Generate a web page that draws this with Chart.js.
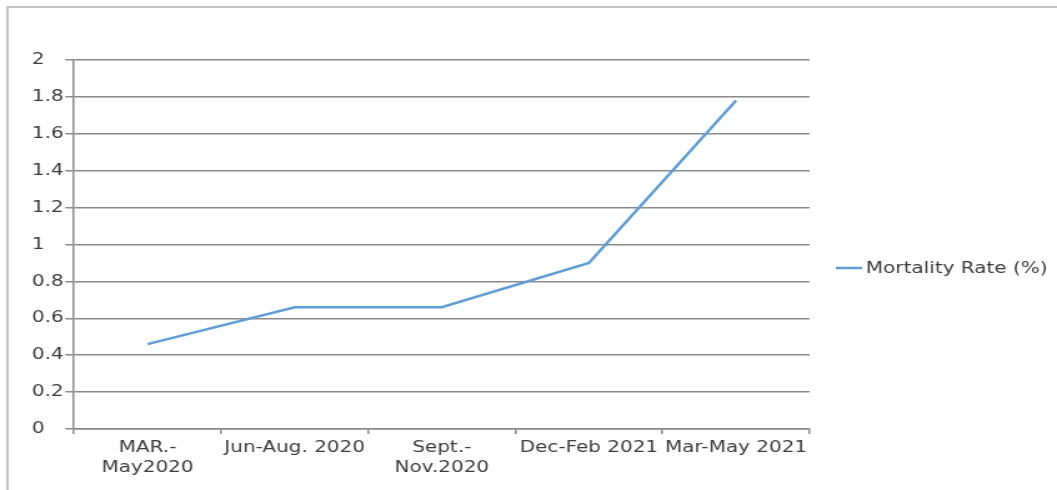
<!DOCTYPE html>
<html>
<head>
<meta charset="utf-8">
<script src="https://cdn.jsdelivr.net/npm/chart.js@4/dist/chart.umd.min.js"></script>
<style>
  html, body { margin: 0; padding: 0; background: #ffffff; overflow: hidden; }
  #wrap { width: 846px; height: 490px; transform: scaleX(1.2494); transform-origin: 0 0; }
  canvas { display: block; }
</style>
</head>
<body>
<div id="wrap"><canvas id="c" width="846" height="490"></canvas></div>
<script>
const categories = [['MAR.-', 'May2020'], 'Jun-Aug. 2020', ['Sept.-', 'Nov.2020'], 'Dec-Feb 2021', 'Mar-May 2021'];
const seriesLabel = 'Mortality Rate (%)';
const mortalityRate = [0.46, 0.66, 0.66, 0.90, 1.78];
const yMin = 0, yMax = 2, yStep = 0.2;

const FONT = { family: '"DejaVu Sans", Verdana, sans-serif', size: 16, lineHeight: 1.3 };
const TEXT = '#3c3c3c';
const LINE = '#5f9dd6';

const frame = {
  id: 'frame',
  beforeDraw(chart) {
    const ctx = chart.ctx;
    ctx.save();
    ctx.strokeStyle = '#c4c4c4';
    ctx.lineWidth = 2;
    ctx.beginPath();
    ctx.moveTo(6, 490);
    ctx.lineTo(6, 7);
    ctx.lineTo(846, 7);
    ctx.stroke();
    ctx.restore();
  }
};

const sideLegend = {
  id: 'sideLegend',
  afterDraw(chart) {
    const ctx = chart.ctx;
    const ds = chart.data.datasets[0];
    const y = 268;
    ctx.save();
    ctx.strokeStyle = ds.borderColor;
    ctx.lineWidth = 2.5;
    ctx.beginPath();
    ctx.moveTo(669, y);
    ctx.lineTo(690, y);
    ctx.stroke();
    ctx.fillStyle = TEXT;
    ctx.font = FONT.size + 'px ' + FONT.family;
    ctx.textAlign = 'left';
    ctx.textBaseline = 'middle';
    ctx.fillText(ds.label, 693, y + 1);
    ctx.restore();
  }
};

new Chart(document.getElementById('c'), {
  type: 'line',
  data: {
    labels: categories,
    datasets: [{
      label: seriesLabel,
      data: mortalityRate,
      borderColor: LINE,
      backgroundColor: LINE,
      borderWidth: 2.5,
      pointRadius: 0,
      tension: 0
    }]
  },
  options: {
    responsive: false,
    devicePixelRatio: 1,
    animation: false,
    layout: { padding: { left: 25.6, top: 60, right: 198, bottom: 0 } },
    plugins: { legend: { display: false }, tooltip: { enabled: false } },
    scales: {
      x: {
        offset: true,
        grid: { offset: true, drawOnChartArea: false, drawTicks: true, tickLength: 5, color: '#8a8a8a', lineWidth: 1.5 },
        border: { color: '#8a8a8a', width: 1.5 },
        ticks: { color: TEXT, font: FONT, maxRotation: 0, minRotation: 0, autoSkip: false, padding: 3 },
        afterFit(scale) { scale.height = 61; }
      },
      y: {
        min: yMin, max: yMax,
        grid: { color: '#8a8a8a', lineWidth: 1.5, tickLength: 7 },
        border: { color: '#8a8a8a', width: 1.5 },
        ticks: {
          stepSize: yStep, color: TEXT, font: FONT, crossAlign: 'far', padding: 4,
          callback: (v) => String(Number(v.toFixed(1)))
        },
        afterFit(scale) { scale.width = 33.6; }
      }
    }
  },
  plugins: [frame, sideLegend]
});
</script>
</body>
</html>
